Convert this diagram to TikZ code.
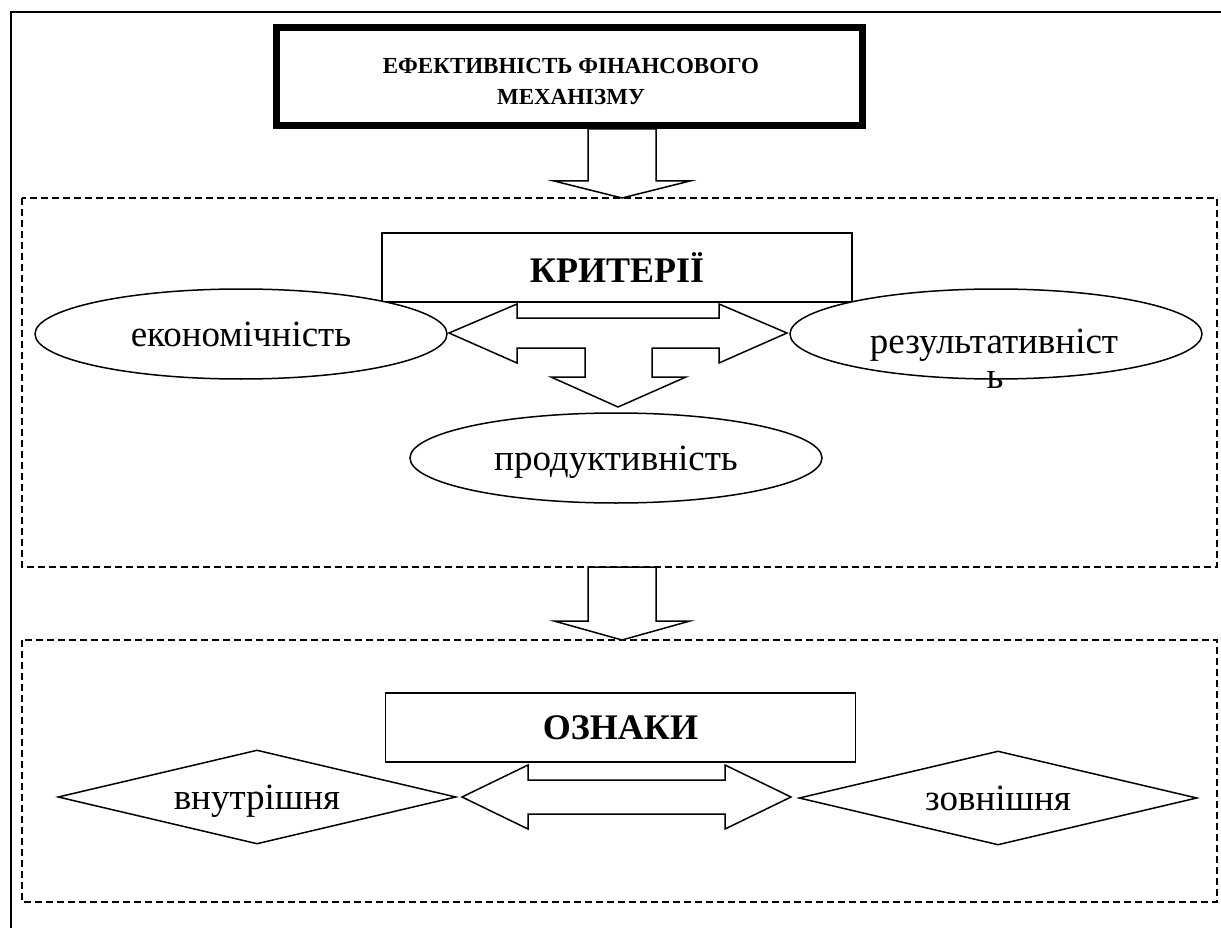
\documentclass[tikz,border=0pt]{standalone}
\usepackage{fontspec}
\setmainfont{Liberation Serif}
\usetikzlibrary{shapes.geometric,calc}

\tikzset{
  frameline/.style={line width=1.6pt},
  dashbox/.style={dash pattern=on 7pt off 4pt, line width=1.5pt},
  blockarrow/.style={draw, line width=1.5pt, fill=white, line join=miter},
  headbox/.style={rectangle, draw, line width=1.5pt, fill=white, minimum width=470pt,
    minimum height=69pt, inner sep=0pt, font=\bfseries\fontsize{36}{40}\selectfont},
  oval/.style={ellipse, draw, line width=1.5pt, fill=white, minimum width=412pt,
    minimum height=90pt, inner sep=0pt, text depth=0pt, font=\fontsize{37}{40}\selectfont},
  rhomb/.style={diamond, draw, line width=1.5pt, fill=white, aspect=4.2, minimum width=398pt,
    minimum height=94pt, inner sep=0pt, text depth=0pt, font=\fontsize{37}{40}\selectfont},
  plaintext/.style={inner sep=0pt, font=\fontsize{37}{40}\selectfont},
}

\begin{document}
\begin{tikzpicture}[x=1pt,y=-1pt]
\useasboundingbox (0,0) rectangle (1221,928);
\draw[frameline] (11,928) -- (11,12) -- (1221,12);

\draw[dashbox] (22,198) rectangle (1217,567);
\draw[dashbox] (22,640) rectangle (1217,902);

\node[draw, line width=6pt, minimum width=587pt, minimum height=99pt] (mech) at (569.5,76.5) {};
\draw[line width=1pt] ($(mech.north west)+(6.5,6.5)$) rectangle ($(mech.south east)+(-6.5,-6.5)$);
\node[align=center, inner sep=0pt, font=\bfseries\fontsize{23}{31}\selectfont] (mecht) at (571,81)
  {ЕФЕКТИВНІСТЬ ФІНАНСОВОГО\\МЕХАНІЗМУ};

\foreach \top/\base/\tip in {129/181/198, 567/621/640}{
  \draw[blockarrow] (588,\top) -- (588,\base) -- (554,\base) -- (622,\tip)
    -- (690,\base) -- (656,\base) -- (656,\top) -- cycle;
}

\node[headbox] (krit) at (617,267.5) {КРИТЕРІЇ};
\draw[blockarrow] (449,333) -- (517,304) -- (517,318) -- (719,318) -- (719,304)
  -- (787,333) -- (719,363) -- (719,348) -- (652,348) -- (652,377) -- (686,377)
  -- (618,407) -- (551,377) -- (585,377) -- (585,348) -- (517,348) -- (517,363) -- cycle;

\node[oval] (econ) at (241,334) {економічність};
\node[oval] (rez) at (996,334) {};
\node[plaintext, anchor=base] (rezt) at (994,353) {результативніст};
\node[plaintext, anchor=base] (rezb) at (995,388) {ь};
\node[oval] (prod) at (616,458) {продуктивність};

\node[headbox] (ozn) at (620.5,727.5) {ОЗНАКИ};
\draw[blockarrow] (462,797) -- (528,765) -- (528,780) -- (725,780) -- (725,765)
  -- (791,797) -- (725,829) -- (725,814) -- (528,814) -- (528,829) -- cycle;

\node[rhomb] (vnut) at (257,797) {внутрішня};
\node[rhomb] (zovn) at (998,798) {зовнішня};
\end{tikzpicture}
\end{document}
